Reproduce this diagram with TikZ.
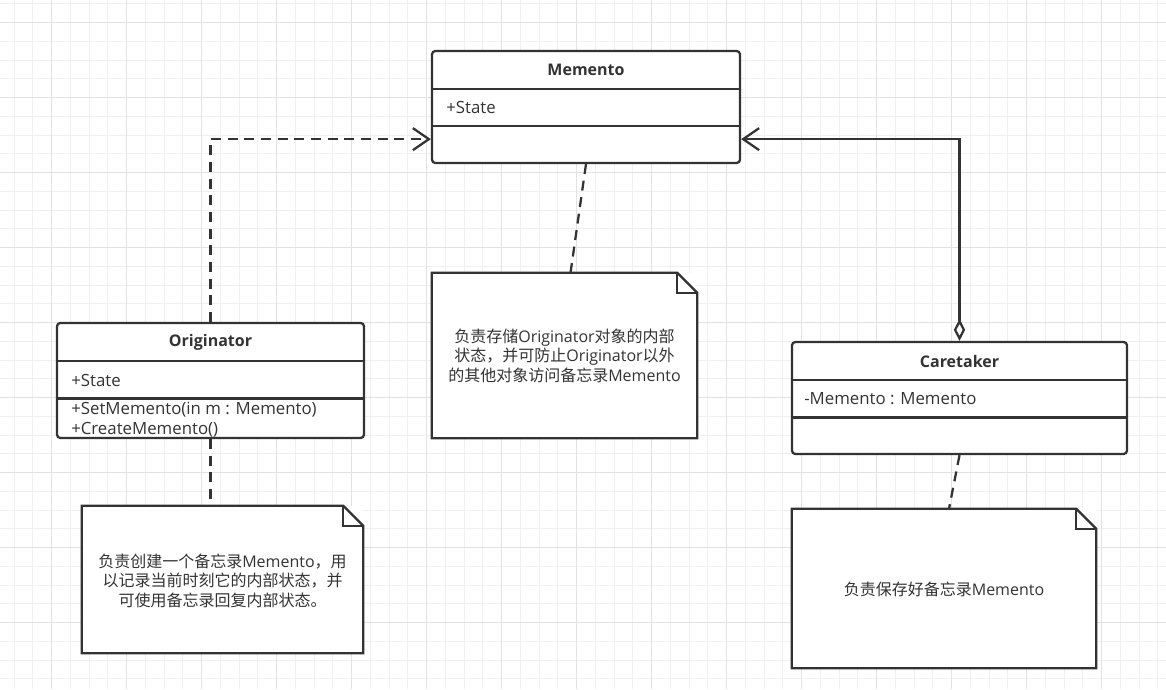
\documentclass[tikz,border=0pt]{standalone}
\usepackage{fontspec}
\setmainfont{Open Sans}
\newfontfamily\cjk{Noto Sans CJK SC}
\usetikzlibrary{arrows.meta,calc}
\definecolor{ink}{HTML}{333333}
\definecolor{gridminor}{HTML}{F0F0F0}
\definecolor{gridmajor}{HTML}{E2E2E2}
\tikzset{
  cls/.style={draw=ink, line width=1.7pt, rounded corners=2.5pt, fill=white, inner sep=0pt},
  notebg/.style={fill=white, draw=none, inner sep=0pt},
  ttl/.style={font=\bfseries\fontsize{12}{14}\selectfont, text=ink, inner sep=0pt},
  attr/.style={font=\fontsize{12.6}{14}\selectfont, text=ink, inner sep=0pt, anchor=west},
  ntxt/.style={font=\fontsize{12}{14.6}\selectfont, text=ink, align=center},
  rel/.style={draw=ink, line width=1.7pt},
  dashedrel/.style={rel, dash pattern=on 7.5pt off 5pt},
  openarrow/.style={-{Straight Barb[length=12pt,width=16.5pt]}},
}
\newcommand\notebox[2]{%
  \draw[rel, line join=miter] (#1.north west) -- ([xshift=-#2]#1.north east) -- ([yshift=-#2]#1.north east) -- (#1.south east) -- (#1.south west) -- cycle;
  \draw[rel, line join=miter] ([xshift=-#2]#1.north east) |- ([yshift=-#2]#1.north east);}
\begin{document}
\begin{tikzpicture}[x=0.75pt,y=-0.75pt]
\useasboundingbox (0,0) rectangle (1166,689);
\fill[white] (0,0) rectangle (1166,689);
% grid
\foreach \i in {0,...,61} \draw[gridminor, line width=0.75pt] ({14.2+18.75*\i},0) -- ++(0,689);
\foreach \i in {0,...,36} \draw[gridminor, line width=0.75pt] (0,{3.75+18.75*\i}) -- ++(1166,0);
\foreach \i in {0,...,14} \draw[gridmajor, line width=0.75pt] ({51.7+75*\i},0) -- ++(0,689);
\foreach \i in {0,...,8} \draw[gridmajor, line width=0.75pt] (0,{22.5+75*\i}) -- ++(1166,0);

% Memento class
\node[cls, minimum width=231pt, minimum height=84pt] (memento) at (586,107) {};
\draw[rel] (memento.west |- 0,89) -- (memento.east |- 0,89);
\draw[rel] (memento.west |- 0,126) -- (memento.east |- 0,126);
\node[ttl] (mementoT) at (586,70) {Memento};
\node[attr] (mementoA) at (446,107.5) {+State};

% Originator class
\node[cls, minimum width=230.25pt, minimum height=86.25pt] (orig) at (210.5,380.5) {};
\draw[rel] (orig.west |- 0,361) -- (orig.east |- 0,361);
\draw[rel] (orig.west |- 0,398.5) -- (orig.east |- 0,398.5);
\node[ttl] (origT) at (210.5,342) {Originator};
\node[attr] (origA) at (71,380) {+State};
\node[attr] (origM1) at (71,410) {+SetMemento(in m : Memento)};
\node[attr] (origM2) at (71,429.5) {+CreateMemento()};

% Caretaker class
\node[cls, minimum width=251.25pt, minimum height=84pt] (care) at (959.5,398) {};
\draw[rel] (care.west |- 0,380) -- (care.east |- 0,380);
\draw[rel] (care.west |- 0,417.5) -- (care.east |- 0,417.5);
\node[ttl] (careT) at (959.5,361.5) {Caretaker};
\node[attr] (careA) at (804,399) {-Memento : Memento};

% Notes
\node[notebg, minimum width=198.75pt, minimum height=123.75pt] (noteM) at (564.5,355.5) {};
\notebox{noteM}{15pt}
\node[ntxt] (noteMT) at (noteM.center) {{\cjk 负责存储}Originator{\cjk 对象的内部}\\{\cjk 状态，并可防止}Originator{\cjk 以外}\\{\cjk 的其他对象访问备忘录}Memento};

\node[notebg, minimum width=210.75pt, minimum height=110.25pt] (noteO) at (222.5,579.5) {};
\notebox{noteO}{15pt}
\node[ntxt] (noteOT) at ([yshift=-1pt]noteO.center) {{\cjk 负责创建一个备忘录}Memento{\cjk ，用}\\{\cjk 以记录当前时刻它的内部状态，并}\\{\cjk 可使用备忘录回复内部状态。}};

\node[notebg, minimum width=228pt, minimum height=119.25pt] (noteC) at (944,588.5) {};
\notebox{noteC}{15pt}
\node[ntxt] (noteCT) at ([yshift=-0.6pt]noteC.center) {{\cjk 负责保存好备忘录}Memento};

% Connectors
\draw[dashedrel, openarrow] (orig.north) |- ([yshift=18.75pt]memento.south west);
\draw[rel, {Diamond[fill=white,length=16.5pt,width=8.5pt]}-{Straight Barb[length=12pt,width=16.5pt]}] (care.north) |- ([yshift=18.75pt]memento.south east);
\draw[dashedrel] (memento.south) -- ([xshift=4.5pt]noteM.north);
\draw[dashedrel] (orig.south) -- (orig.south |- noteO.north);
\draw[dashedrel] (care.south) -- ([xshift=3.75pt]noteC.north);
\end{tikzpicture}
\end{document}
